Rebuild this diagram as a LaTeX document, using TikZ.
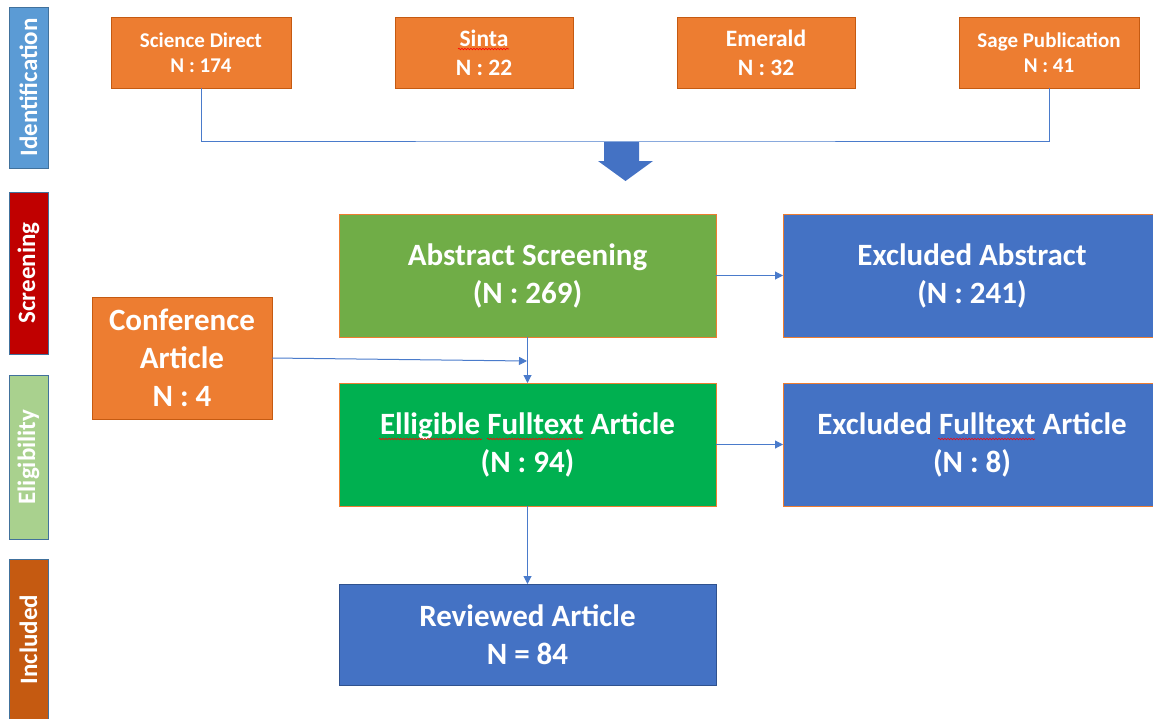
\documentclass[tikz,border=0pt]{standalone}
\usepackage{fontspec}
\setmainfont{Carlito}
\usetikzlibrary{arrows.meta,decorations.pathmorphing}
\definecolor{cOrange}{HTML}{ED7D31}
\definecolor{cOrangeDk}{HTML}{C55A11}
\definecolor{cBlue}{HTML}{4472C4}
\definecolor{cBlueDk}{HTML}{2F528F}
\definecolor{cBarBlue}{HTML}{5B9BD5}
\definecolor{cBarEdge}{HTML}{41719C}
\definecolor{cRed}{HTML}{C00000}
\definecolor{cLightGreen}{HTML}{A9D18E}
\definecolor{cGreenA}{HTML}{70AD47}
\definecolor{cGreenB}{HTML}{00B050}
\definecolor{cRust}{HTML}{C55A11}
\definecolor{cLine}{HTML}{4A7BCB}
\begin{document}
\begin{tikzpicture}[x=1pt,y=-1pt,
  box/.style={draw, line width=1pt, inner sep=0pt, outer sep=0pt, text=white, align=center},
  fsmall/.style={font=\bfseries\fontsize{21}{25}\selectfont},
  fmid/.style={font=\bfseries\fontsize{23.5}{29}\selectfont},
  fbig/.style={font=\bfseries\fontsize{31}{38}\selectfont},
  bar/.style={draw=cBarEdge, line width=1pt, inner sep=0pt, outer sep=0pt, text=white, rotate=90, minimum height=39pt, font=\bfseries\fontsize{25}{28}\selectfont},
  conn/.style={draw=cLine, line width=1pt},
  arr/.style={conn, -{Triangle[length=8pt,width=8pt]}},
  squig/.style={draw=red, line width=0.6pt, decorate, decoration={snake, amplitude=0.8pt, segment length=3pt}}
]
\useasboundingbox (0,0) rectangle (1153,718);

% phase bars
\node[bar, fill=cBarBlue, minimum width=161pt] (bid) at (28.5,87.5) {Identification};
\node[bar, fill=cRed, minimum width=162pt] (bsc) at (28.5,273) {Screening};
\node[bar, fill=cLightGreen, minimum width=164pt] (bel) at (28.5,457) {Eligibility};
\node[bar, fill=cRust, minimum width=161pt] (bin) at (28.5,639.5) {Included};

% sources
\node[box, fsmall, fill=cOrange, draw=cOrangeDk, minimum width=180pt, minimum height=71pt] (sd) at (201,52.5) {Science Direct\\N : 174};
\node[box, fmid, fill=cOrange, draw=cOrangeDk, minimum width=178pt, minimum height=71pt] (si) at (484,52.5) {Sinta\\N : 22};
\node[box, fmid, fill=cOrange, draw=cOrangeDk, minimum width=178pt, minimum height=71pt] (em) at (766,52.5) {Emerald\\N : 32};
\node[box, fsmall, fill=cOrange, draw=cOrangeDk, minimum width=180pt, minimum height=71pt] (sa) at (1049,52.5) {Sage Publication\\N : 41};

% main flow
\node[box, fbig, fill=cGreenA, draw=cOrange, minimum width=377pt, minimum height=123pt] (abs) at (527.5,275.5) {Abstract Screening\\(N : 269)};
\node[box, fbig, fill=cGreenB, draw=cOrange, minimum width=377pt, minimum height=123pt] (eli) at (527.5,444.5) {Elligible Fulltext Article\\(N : 94)};
\node[box, fbig, fill=cBlue, draw=cOrange, minimum width=378pt, minimum height=123pt] (exa) at (972,275.5) {Excluded Abstract\\(N : 241)};
\node[box, fbig, fill=cBlue, draw=cOrange, minimum width=378pt, minimum height=123pt] (exf) at (972,444.5) {Excluded Fulltext Article\\(N : 8)};
\node[box, fbig, fill=cOrange, draw=cOrangeDk, minimum width=180pt, minimum height=122pt] (conf) at (182,358) {Conference\\Article\\N : 4};
\node[box, fbig, fill=cBlue, draw=cBlueDk, minimum width=377pt, minimum height=101pt] (rev) at (527.5,634.5) {Reviewed Article\\N = 84};

% identification merge
\coordinate (jn) at (625.5,141);
\draw[conn] (sd.south) |- (jn) -| (sa.south);
\fill[cBlue] (604,142) -- (639,142) -- (639,161) -- (653,161) -- (625.5,181) -- (598,161) -- (604,161) -- cycle;

% arrows
\coordinate (jc) at (527,361);
\draw[arr] (abs.east) -- (exa.west);
\draw[arr] (eli.east) -- (exf.west);
\draw[arr] (abs.south) -- (eli.north);
\draw[arr] (conf.east) -- (jc);
\draw[arr] (eli.south) -- (rev.north);

% spell-check squiggles
\draw[squig] (458,49) -- (509,49);
\draw[squig] (379,439) -- (482,439);
\draw[squig] (487,439) -- (583,439);
\draw[squig] (938,439) -- (1035,439);
\end{tikzpicture}
\end{document}
